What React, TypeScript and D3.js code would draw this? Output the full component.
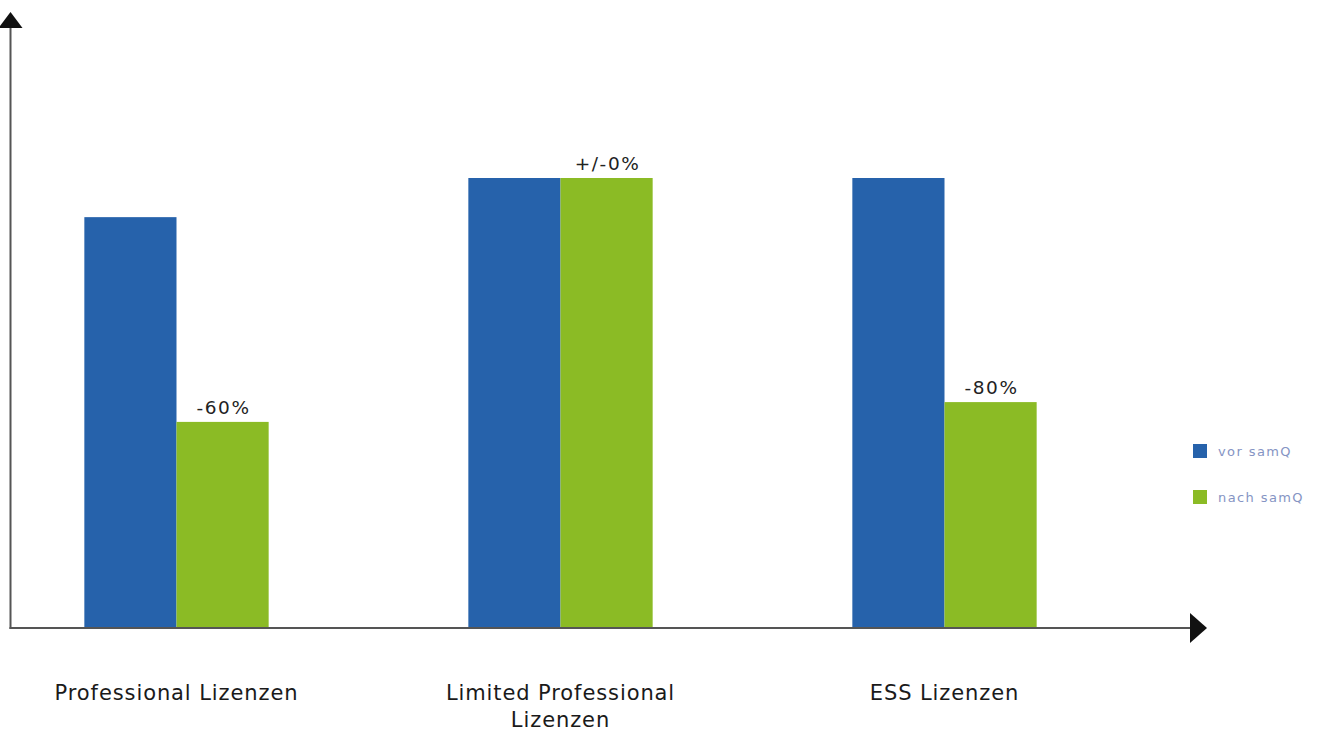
import React from "react";
import * as d3 from "d3";

// Licence counts before / after samQ (relative units) and the stated change
const categories = ["Professional Lizenzen", "Limited Professional Lizenzen", "ESS Lizenzen"];
const categoryLines = [["Professional Lizenzen"], ["Limited Professional", "Lizenzen"], ["ESS Lizenzen"]];
const vorSamQ = [91.3, 100, 100];
const nachSamQ = [45.8, 100, 50.2];
const changeLabels = ["-60%", "+/-0%", "-80%"];
const seriesNames = ["vor samQ", "nach samQ"];
const seriesColors = ["#2662ab", "#8bbb25"];

const W = 1322;
const H = 731;

export default function App() {
  const baseY = 628;
  const axisX = 10.5;

  const x = d3
    .scaleBand<string>()
    .domain(categories)
    .range([-15.5, 1136.5])
    .paddingInner(0.52)
    .paddingOuter(0.26);

  const sub = d3
    .scaleBand<string>()
    .domain(seriesNames)
    .range([0, x.bandwidth()])
    .padding(0);

  const y = d3.scaleLinear().domain([0, 100]).range([baseY, 178]);

  const series = [vorSamQ, nachSamQ];
  const font = "'DejaVu Sans', Verdana, sans-serif";

  return (
    <svg
      width={W}
      height={H}
      viewBox={`0 0 ${W} ${H}`}
      style={{ position: "absolute", left: 0, top: 0, background: "#fff" }}
    >
      {/* bars */}
      {categories.map((c, i) => (
        <g key={c} transform={`translate(${x(c)},0)`}>
          {series.map((vals, s) => (
            <rect
              key={s}
              x={sub(seriesNames[s])}
              y={y(vals[i])}
              width={sub.bandwidth()}
              height={baseY - y(vals[i])}
              fill={seriesColors[s]}
            />
          ))}
          <text
            x={(sub(seriesNames[1]) ?? 0) + sub.bandwidth() / 2 + 1}
            y={y(nachSamQ[i]) - 8}
            textAnchor="middle"
            fontFamily={font}
            fontSize={18.5}
            letterSpacing={1.6}
            fill="#222"
          >
            {changeLabels[i]}
          </text>
          {categoryLines[i].map((line, k) => (
            <text
              key={k}
              x={x.bandwidth() / 2}
              y={700 + k * 27}
              textAnchor="middle"
              fontFamily={font}
              fontSize={21}
              letterSpacing={0.9}
              fill="#1a1a1a"
            >
              {line}
            </text>
          ))}
        </g>
      ))}

      {/* axes with arrow heads */}
      <line x1={axisX} x2={axisX} y1={baseY + 1} y2={26} stroke="#555" strokeWidth={2} />
      <path d={`M${axisX},12 L${axisX + 12},28 L${axisX - 12},28 Z`} fill="#111" />
      <line x1={axisX - 1} x2={1192} y1={baseY} y2={baseY} stroke="#555" strokeWidth={2} />
      <path d={`M1207,${baseY} L1190,${baseY - 15} L1190,${baseY + 15} Z`} fill="#111" />

      {/* legend */}
      {seriesNames.map((name, s) => (
        <g key={name} transform={`translate(1193,${444 + s * 46})`}>
          <rect width={14} height={14} fill={seriesColors[s]} />
          <text x={25} y={12} fontFamily={font} fontSize={13} letterSpacing={1.4} fill="#8594c4">
            {name}
          </text>
        </g>
      ))}
    </svg>
  );
}
